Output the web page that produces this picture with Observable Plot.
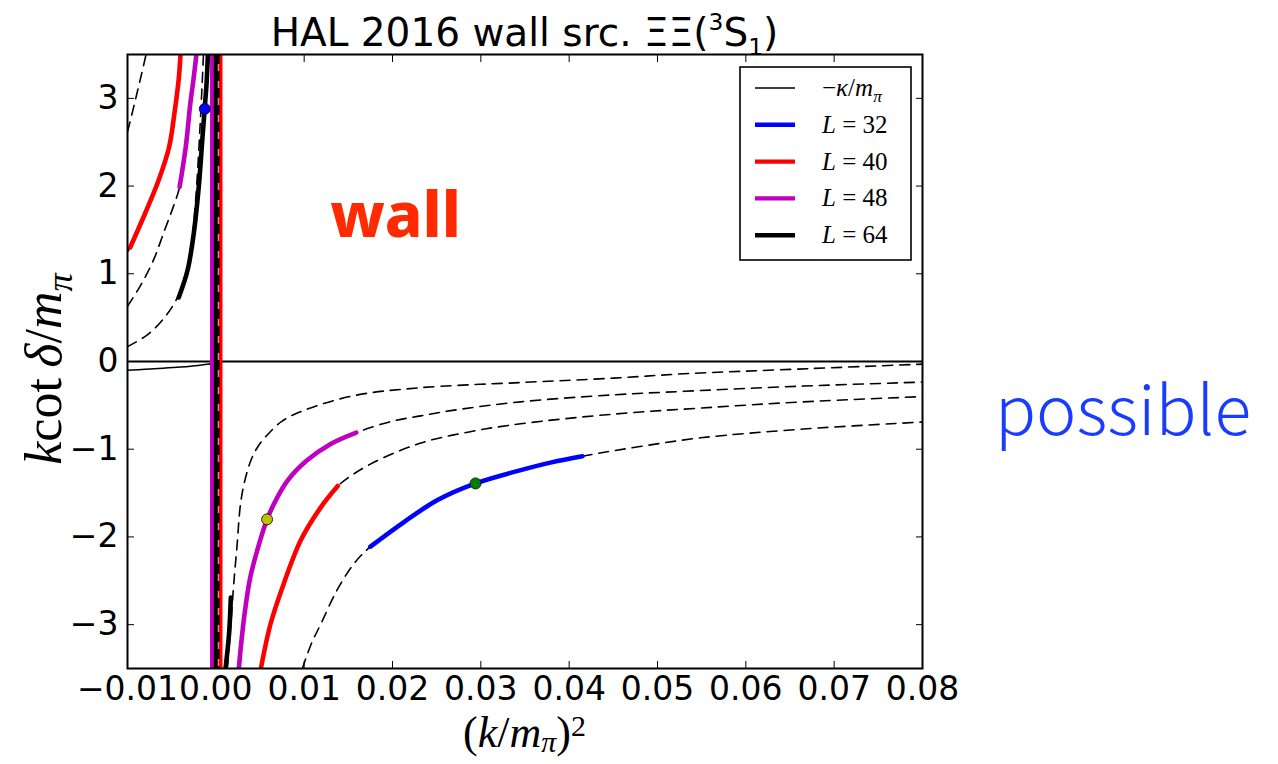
<!DOCTYPE html>
<html>
<head>
<meta charset="utf-8">
<script src="https://cdn.jsdelivr.net/npm/d3@7"></script>
<script src="https://cdn.jsdelivr.net/npm/@observablehq/plot@0.6"></script>
<style>
  html, body { margin: 0; padding: 0; background: #fff; }
  #chart { width: 1278px; height: 764px; }
</style>
</head>
<body>
<div id="chart"></div>
<script>
// Axis ticks
const xTicks = [-0.01, 0.00, 0.01, 0.02, 0.03, 0.04, 0.05, 0.06, 0.07, 0.08];
const yTicks = [-3, -2, -1, 0, 1, 2, 3];

// Lüscher curves (dashed), one per volume, split at the pole k^2 = 0
const l32UpX = [-0.0100, -0.0094, -0.0089, -0.0084, -0.0079];
const l32UpY = [2.62, 2.86, 3.07, 3.28, 3.50];
const l32LoX = [0.0098, 0.0108, 0.0119, 0.0137, 0.0156, 0.0175, 0.0213, 0.0251, 0.0294, 0.0341, 0.0415, 0.0480, 0.0549, 0.0665, 0.0800];
const l32LoY = [-3.50, -3.22, -2.99, -2.61, -2.31, -2.11, -1.83, -1.58, -1.39, -1.25, -1.08, -0.97, -0.87, -0.77, -0.69];

const l40UpX = [-0.0100, -0.0097, -0.0080, -0.0065, -0.0053, -0.0047, -0.0042, -0.0040];
const l40UpY = [1.25, 1.30, 1.69, 2.06, 2.44, 2.82, 3.22, 3.50];
const l40LoX = [0.0051, 0.0062, 0.0077, 0.0096, 0.0119, 0.0138, 0.0175, 0.0232, 0.0288, 0.0345, 0.0450, 0.0550, 0.0665, 0.0800];
const l40LoY = [-3.50, -2.99, -2.53, -2.04, -1.66, -1.42, -1.17, -0.93, -0.80, -0.71, -0.60, -0.53, -0.46, -0.40];

const l48UpX = [-0.0100, -0.0085, -0.0070, -0.0059, -0.0049, -0.0041, -0.0034, -0.0029, -0.0025, -0.0022];
const l48UpY = [0.63, 0.87, 1.17, 1.47, 1.74, 1.99, 2.45, 2.93, 3.24, 3.50];
const l48LoX = [0.0026, 0.0032, 0.0039, 0.0049, 0.0058, 0.0068, 0.0081, 0.0103, 0.0130, 0.0159, 0.0200, 0.0232, 0.0266, 0.0345, 0.0450, 0.0530, 0.0665, 0.0800];
const l48LoY = [-3.50, -2.92, -2.46, -2.08, -1.80, -1.58, -1.36, -1.13, -0.94, -0.81, -0.68, -0.62, -0.56, -0.46, -0.38, -0.34, -0.28, -0.235];

const l64UpX = [-0.0100, -0.0078, -0.0059, -0.0045, -0.0035, -0.0028, -0.0023, -0.0018, -0.0014];
const l64UpY = [0.17, 0.30, 0.49, 0.70, 0.95, 1.30, 1.82, 2.65, 3.50];
const l64LoX = [0.0013, 0.0017, 0.0020, 0.0024, 0.0028, 0.0033, 0.0040, 0.0047, 0.0058, 0.0075, 0.0099, 0.0156, 0.0230, 0.0345, 0.0450, 0.0530, 0.0650, 0.0800];
const l64LoY = [-3.50, -3.00, -2.57, -2.10, -1.62, -1.35, -1.12, -0.98, -0.84, -0.68, -0.56, -0.39, -0.30, -0.24, -0.19, -0.14, -0.09, -0.03];

// Segments of each curve covered by the lattice data (solid, coloured)
const s32LoX = [0.0175, 0.0213, 0.0251, 0.0294, 0.0341, 0.0380, 0.0415];
const s32LoY = [-2.11, -1.83, -1.58, -1.39, -1.25, -1.15, -1.08];
const s40UpX = [-0.0097, -0.0080, -0.0065, -0.0053, -0.0047, -0.0042, -0.0040];
const s40UpY = [1.30, 1.69, 2.06, 2.44, 2.82, 3.22, 3.50];
const s40LoX = [0.0051, 0.0062, 0.0077, 0.0096, 0.0119, 0.0138];
const s40LoY = [-3.50, -2.99, -2.53, -2.04, -1.66, -1.42];
const s48UpX = [-0.0041, -0.0034, -0.0029, -0.0025, -0.0022];
const s48UpY = [1.99, 2.45, 2.93, 3.24, 3.50];
const s48LoX = [0.0026, 0.0032, 0.0039, 0.0049, 0.0058, 0.0068, 0.0081, 0.0103, 0.0130, 0.0159];
const s48LoY = [-3.50, -2.92, -2.46, -2.08, -1.80, -1.58, -1.36, -1.13, -0.94, -0.81];
const s64UpX = [-0.0042, -0.0032, -0.0025, -0.0019, -0.00154, -0.00128, -0.00105, -0.0009];
const s64UpY = [0.73, 1.04, 1.46, 2.03, 2.52, 2.86, 3.17, 3.50];
const s64LoX = [0.0011, 0.0015, 0.0017];
const s64LoY = [-3.50, -3.10, -2.69];

// Jumps through the pole drawn by the solid segments, and by the dashed curves
const poleColor = ["#bf00bf", "#000000", "#ff0000"];
const poleX = [-0.00043, 0.00000, 0.00053];
const poleDashX = [0.00020, 0.00032];

// Binding momentum, -kappa/m_pi
const kappaX = [-0.0100, -0.0080, -0.0060, -0.0040, -0.0020, -0.0010, -0.0005, 0.0000];
const kappaY = [-0.100, -0.089, -0.077, -0.063, -0.045, -0.032, -0.022, 0.000];

// Highlighted points
const markX = [-0.00125, 0.0058, 0.0294];
const markY = [2.88, -1.80, -1.39];
const markFill = ["#0000ff", "#bfbf00", "#008000"];

// Annotations
const noteText = ["wall", "possible"];
const noteX = [0.02034, 0.10270];
const noteY = [1.64, -0.590];
const noteColor = ["#ff2a00", "#1a3cff"];

// Legend
const legendLabels = [
  [{t: "\u2212"}, {t: "\u03ba", i: true}, {t: "/"}, {t: "m", i: true}, {t: "\u03c0", i: true, pos: "sub"}],
  [{t: "L", i: true}, {t: " = 32"}],
  [{t: "L", i: true}, {t: " = 40"}],
  [{t: "L", i: true}, {t: " = 48"}],
  [{t: "L", i: true}, {t: " = 64"}]
];
const legendColors = ["#000000", "#0000ff", "#ff0000", "#bf00bf", "#000000"];
const legendWidths = [1.6, 4.4, 4.4, 4.4, 4.4];

const rows = (xs, ys, id, extra = {}) => xs.map((x, i) => ({x, y: ys[i], id, ...extra}));

const dashedRows = [
  ...rows(l32UpX, l32UpY, "32u"), ...rows(l32LoX, l32LoY, "32l"),
  ...rows(l40UpX, l40UpY, "40u"), ...rows(l40LoX, l40LoY, "40l"),
  ...rows(l48UpX, l48UpY, "48u"), ...rows(l48LoX, l48LoY, "48l"),
  ...rows(l64UpX, l64UpY, "64u"), ...rows(l64LoX, l64LoY, "64l")
];
const solidRows = [
  ...rows(s32LoX, s32LoY, "32l", {color: "#0000ff"}),
  ...rows(s40UpX, s40UpY, "40u", {color: "#ff0000"}), ...rows(s40LoX, s40LoY, "40l", {color: "#ff0000"}),
  ...rows(s48UpX, s48UpY, "48u", {color: "#bf00bf"}), ...rows(s48LoX, s48LoY, "48l", {color: "#bf00bf"}),
  ...rows(s64UpX, s64UpY, "64u", {color: "#000000"}), ...rows(s64LoX, s64LoY, "64l", {color: "#000000"})
];
const poleRows = poleX.map((x, i) => ({x, color: poleColor[i]}));
const kappaRows = rows(kappaX, kappaY, "k");
const markRows = markX.map((x, i) => ({x, y: markY[i], fill: markFill[i]}));
const noteRows = noteText.map((t, i) => ({t, x: noteX[i], y: noteY[i], color: noteColor[i]}));

const fmtX = d3.format(".2f");
const fmtY = d3.format("d");
const dash = "10,7";

const chart = Plot.plot({
  width: 1278,
  height: 764,
  marginLeft: 127,
  marginRight: 356,
  marginTop: 54,
  marginBottom: 96,
  x: {domain: [-0.01, 0.08]},
  y: {domain: [-3.5, 3.5]},
  color: {type: "identity"},
  style: {fontFamily: "DejaVu Sans", background: "white", color: "black", overflow: "visible"},
  marks: [
    Plot.line(dashedRows, {x: "x", y: "y", z: "id", stroke: "black", strokeWidth: 1.6, strokeDasharray: dash, curve: "catmull-rom", clip: true}),
    Plot.ruleY([0], {stroke: "black", strokeWidth: 1.8}),
    Plot.line(kappaRows, {x: "x", y: "y", stroke: "black", strokeWidth: 1.5, curve: "catmull-rom", clip: true}),
    Plot.line(solidRows, {x: "x", y: "y", z: "id", stroke: "color", strokeWidth: 4.6, curve: "catmull-rom", clip: true}),
    Plot.ruleX(poleRows, {x: "x", stroke: "color", strokeWidth: 4}),
    Plot.ruleX(poleDashX, {stroke: "black", strokeWidth: 1.8, strokeDasharray: dash}),
    Plot.dot(markRows, {x: "x", y: "y", fill: "fill", stroke: "black", strokeWidth: 0.8, r: 5.5}),
    Plot.text(noteRows.slice(0, 1), {x: "x", y: "y", text: "t", fill: "color", fontSize: 62, fontWeight: 800, fontFamily: "Noto Sans", textAnchor: "middle", lineAnchor: "middle"}),
    Plot.text(noteRows.slice(1), {x: "x", y: "y", text: "t", fill: "color", fontSize: 68, fontWeight: 300, fontFamily: "Noto Sans CJK JP", textAnchor: "middle", lineAnchor: "middle"}),
    Plot.frame({stroke: "black", strokeWidth: 2}),
    Plot.axisX({anchor: "bottom", ticks: xTicks, tickSize: -7, tickPadding: 15, tickFormat: fmtX, fontSize: 33, label: null}),
    Plot.axisX({anchor: "top", ticks: xTicks, tickSize: -7, tickFormat: () => "", label: null}),
    Plot.axisY({anchor: "left", ticks: yTicks, tickSize: -7, tickPadding: 16, tickFormat: fmtY, fontSize: 33, label: null}),
    Plot.axisY({anchor: "right", ticks: yTicks, tickSize: -7, tickFormat: () => "", label: null})
  ]
});

document.getElementById("chart").appendChild(chart);

// Text with italic runs and sub/superscripts
function richText(sel, parts, size, scale = 0.7, up = 0.4, down = 0.22) {
  let shift = 0;
  parts.forEach((p) => {
    const target = p.pos === "sub" ? size * down : p.pos === "sup" ? -size * up : 0;
    const ts = sel.append("tspan").text(p.t).attr("dy", target - shift);
    shift = target;
    if (p.pos) ts.attr("font-size", size * scale);
    if (p.i) ts.attr("font-style", "italic");
  });
}

const svg = d3.select(chart);
const xRange = chart.scale("x").range;
const yRange = chart.scale("y").range;
const frameL = Math.min(...xRange), frameR = Math.max(...xRange);
const frameT = Math.min(...yRange), frameB = Math.max(...yRange);
const frameCx = (frameL + frameR) / 2;

// Title
const title = svg.append("text")
  .attr("x", frameCx).attr("y", frameT - 8)
  .attr("text-anchor", "middle")
  .attr("font-family", "DejaVu Sans")
  .attr("font-size", 39)
  .attr("fill", "black");
richText(title, [{t: "HAL 2016 wall src. \u039e\u039e("}, {t: "3", pos: "sup"}, {t: "S"}, {t: "1", pos: "sub"}, {t: ")"}], 39, 0.6);

// Axis labels
const serif = "Liberation Serif";
const xl = svg.append("text")
  .attr("x", frameCx).attr("y", frameB + 79)
  .attr("text-anchor", "middle")
  .attr("font-family", serif).attr("font-size", 44).attr("fill", "black");
richText(xl, [{t: "("}, {t: "k", i: true}, {t: "/"}, {t: "m", i: true}, {t: "\u03c0", i: true, pos: "sub"}, {t: ")"}, {t: "2", pos: "sup"}], 44, 0.68, 0.26, 0.12);

const yl = svg.append("text")
  .attr("transform", `translate(${frameL - 66},${(frameT + frameB) / 2 + 8}) rotate(-90)`)
  .attr("text-anchor", "middle")
  .attr("font-family", serif).attr("font-size", 52).attr("fill", "black");
richText(yl, [{t: "k", i: true}, {t: "cot\u2009"}, {t: "\u03b4", i: true}, {t: "/"}, {t: "m", i: true}, {t: "\u03c0", i: true, pos: "sub"}], 52);

// Legend
const lgW = 171, lgH = 193;
const lg = svg.append("g").attr("transform", `translate(${frameR - 11 - lgW},${frameT + 13})`);
lg.append("rect").attr("width", lgW).attr("height", lgH).attr("fill", "white").attr("stroke", "black").attr("stroke-width", 1.6);
legendLabels.forEach((parts, i) => {
  const yy = 21 + i * 36.8;
  lg.append("line").attr("x1", 15).attr("x2", 55).attr("y1", yy).attr("y2", yy)
    .attr("stroke", legendColors[i]).attr("stroke-width", legendWidths[i]);
  const t = lg.append("text").attr("x", 82).attr("y", yy + 8)
    .attr("text-anchor", "start")
    .attr("font-family", serif).attr("font-size", 25).attr("fill", "black");
  richText(t, parts, 25);
});
</script>
</body>
</html>
